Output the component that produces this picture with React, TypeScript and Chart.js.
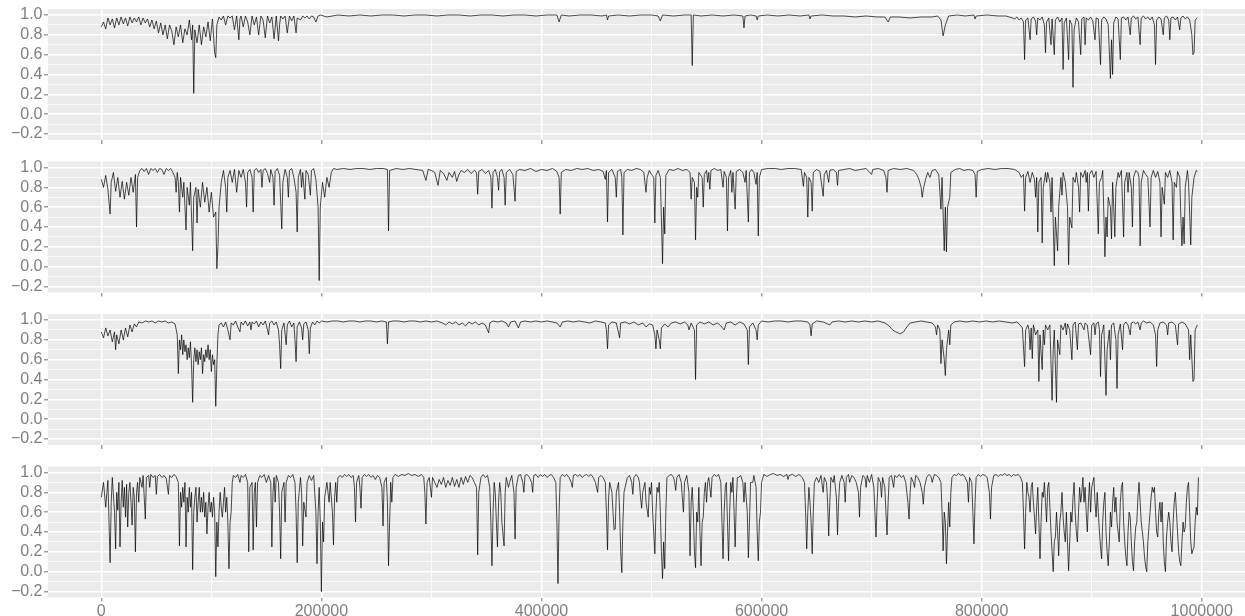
import React, { useEffect, useRef } from "react";
import { Chart, registerables } from "chart.js";

Chart.register(...registerables);

// Each reading is [position in thousands, value]
const X_UNIT = 1000;

const panel1Points: [number, number][] = [
  [0,0.88],[2,0.93],[4,0.86],[6,0.97],[8,0.9],[10,0.96],[12,0.87],[14,0.97],[16,0.9],[18,0.98],
  [20,0.91],[22,0.97],[24,0.89],[26,0.98],[28,0.92],[30,0.97],[32,0.93],[34,0.98],[36,0.9],[38,0.97],
  [40,0.92],[42,0.96],[44,0.88],[46,0.95],[48,0.86],[50,0.94],[52,0.82],[54,0.92],[56,0.8],[58,0.9],
  [60,0.76],[62,0.9],[64,0.84],[66,0.7],[68,0.88],[70,0.78],[72,0.9],[74,0.72],[76,0.86],[78,0.8],
  [80,0.95],[82,0.75],[83,0.9],[84,0.21],[85,0.85],[87,0.72],[89,0.9],[91,0.7],[93,0.88],[95,0.78],
  [97,0.93],[99,0.74],[101,0.96],[103,0.62],[104,0.57],[105,0.9],[107,0.98],[109,0.95],[111,0.99],[113,0.9],
  [115,0.99],[117,0.97],[119,0.99],[121,0.85],[123,0.99],[125,0.75],[126,0.96],[127,0.99],[129,0.88],[131,0.99],
  [133,0.93],[135,0.8],[137,0.99],[139,0.9],[141,0.98],[143,0.8],[145,0.99],[147,0.95],[149,0.77],[151,0.99],
  [153,0.92],[155,0.98],[157,0.76],[159,0.99],[161,0.74],[162,0.9],[163,0.99],[165,0.96],[167,0.99],[169,0.82],
  [171,0.99],[173,0.94],[175,0.99],[177,0.82],[178,0.97],[181,0.95],[183,0.99],[185,0.97],[187,0.99],[189,0.96],
  [191,0.99],[193,0.98],[195,0.93],[197,0.99],[199,1.0],
  [205,0.98],[215,1.0],[225,0.99],[235,1.0],[245,0.99],[255,1.0],[265,1.0],[275,0.99],[285,1.0],[295,1.0],
  [305,0.99],[315,1.0],[325,1.0],[335,0.99],[345,1.0],[355,1.0],[365,0.99],[375,1.0],[385,1.0],[395,0.99],
  [405,1.0],[414,1.0],[416,0.93],[418,1.0],[425,0.99],[435,1.0],[445,1.0],[455,0.99],[459,1.0],[460,0.95],
  [461,0.99],[470,1.0],[480,0.99],[490,1.0],[500,1.0],[506,0.99],[508,0.94],[510,1.0],[520,0.99],[530,1.0],
  [536,1.0],[537,0.49],[538,1.0],[545,0.99],[555,1.0],[565,0.99],[575,1.0],[583,0.99],[584,0.87],[585,0.99],
  [590,1.0],[595,0.99],[596,0.95],[597,0.99],[605,1.0],[615,0.99],[625,1.0],[635,0.99],[643,1.0],[644,0.96],
  [645,0.99],[655,1.0],[665,0.99],[675,0.99],[685,0.98],[695,0.99],[705,0.98],[712,0.98],[715,0.93],[717,0.98],
  [725,0.98],[735,0.97],[745,0.98],[755,0.98],[760,0.99],[763,0.95],[765,0.79],[767,0.9],[770,0.99],[778,1.0],
  [785,0.99],[793,1.0],[794,0.96],[795,0.99],[805,1.0],[815,0.99],[822,0.99],[828,0.97],
  [830,0.96],[832,0.98],[834,0.95],[836,0.97],[838,0.93],[839,0.55],[840,0.95],[842,0.97],[844,0.75],[845,0.96],
  [847,0.98],[849,0.94],[850,0.8],[851,0.97],[853,0.95],[855,0.98],[857,0.9],[858,0.62],[859,0.93],[861,0.97],
  [863,0.7],[864,0.96],[866,0.6],[867,0.95],[869,0.98],[871,0.93],[873,0.97],[874,0.45],[875,0.92],[877,0.97],
  [879,0.55],[880,0.95],[882,0.9],[883,0.27],[884,0.85],[886,0.97],[888,0.93],[890,0.6],[891,0.96],[893,0.98],
  [894,0.7],[895,0.97],[897,0.95],[899,0.98],[901,0.94],[903,0.75],[904,0.97],[906,0.96],[908,0.5],[909,0.95],
  [911,0.98],[913,0.96],[915,0.9],[917,0.36],[918,0.75],[919,0.4],[920,0.92],[922,0.98],[924,0.96],[926,0.55],
  [927,0.97],[929,0.98],[931,0.95],[933,0.98],[935,0.8],[936,0.97],[938,0.99],[940,0.96],[942,0.98],[944,0.7],
  [945,0.97],[947,0.99],[949,0.96],[951,0.98],[953,0.95],[955,0.98],[957,0.9],[958,0.5],[959,0.95],[961,0.98],
  [963,0.96],[965,0.8],[966,0.97],[968,0.99],[970,0.95],[971,0.75],[972,0.97],[974,0.98],[976,0.95],[978,0.98],
  [980,0.85],[981,0.97],[983,0.99],[985,0.96],[987,0.98],[989,0.95],[991,0.8],[992,0.6],[993,0.62],[994,0.95],
  [996,0.97],
];

const panel2Points: [number, number][] = [
  [0,0.88],[2,0.8],[4,0.92],[6,0.78],[8,0.53],[9,0.85],[11,0.95],[13,0.76],[15,0.9],[17,0.7],
  [19,0.86],[21,0.68],[23,0.85],[25,0.72],[27,0.9],[29,0.75],[31,0.93],[32,0.4],[33,0.9],[35,0.97],
  [37,0.99],[39,0.96],[41,0.99],[43,0.93],[45,0.99],[47,0.97],[49,0.99],[51,0.95],[53,0.99],[55,0.98],
  [57,0.93],[59,0.99],[61,0.97],[63,0.99],[65,0.95],[67,0.9],[68,0.75],[69,0.95],[70,0.85],[71,0.55],
  [72,0.9],[74,0.7],[75,0.85],[77,0.37],[78,0.8],[80,0.62],[81,0.85],[83,0.16],[84,0.7],[86,0.8],
  [87,0.44],[88,0.78],[90,0.6],[92,0.85],[94,0.65],[96,0.8],[98,0.55],[100,0.75],[102,0.5],[104,0.55],
  [105,-0.02],[106,0.2],[107,0.6],[109,0.85],[111,0.97],[113,0.8],[114,0.55],[115,0.9],[117,0.97],[119,0.85],
  [121,0.98],[123,0.75],[125,0.97],[127,0.9],[129,0.98],[131,0.85],[132,0.6],[133,0.95],[135,0.98],[137,0.9],
  [138,0.55],[139,0.97],[141,0.99],[143,0.95],[145,0.98],[146,0.8],[147,0.97],[149,0.99],[151,0.94],[153,0.85],
  [154,0.98],[156,0.9],[157,0.62],[158,0.96],[160,0.99],[162,0.92],[164,0.38],[165,0.85],[167,0.98],[169,0.9],
  [170,0.7],[171,0.97],[173,0.99],[175,0.9],[177,0.75],[178,0.35],[179,0.9],[181,0.98],[182,0.8],[183,0.95],
  [185,0.68],[186,0.97],[188,0.93],[190,0.72],[191,0.97],[193,0.99],[195,0.88],[197,0.6],[198,-0.14],[199,0.6],
  [201,0.85],[203,0.7],[205,0.9],[207,0.8],[209,0.95],[211,0.99],[214,0.98],[220,0.99],[226,0.98],[232,0.99],
  [238,0.99],[244,0.98],[250,0.99],[256,0.99],[260,0.98],[261,0.36],[262,0.97],[268,0.99],[274,0.98],[280,0.99],
  [286,0.98],[292,0.97],[295,0.87],[297,0.98],[300,0.97],[303,0.95],[306,0.82],[308,0.97],[311,0.94],[314,0.87],
  [316,0.95],[319,0.9],[321,0.96],[323,0.86],[325,0.93],[327,0.97],[330,0.95],[333,0.98],[336,0.94],[339,0.97],
  [341,0.95],[342,0.73],[343,0.96],[346,0.98],[349,0.94],[352,0.97],[354,0.9],[355,0.59],[356,0.95],[358,0.98],
  [360,0.9],[361,0.77],[362,0.96],[364,0.98],[366,0.9],[367,0.62],[368,0.95],[371,0.98],[374,0.93],[376,0.66],
  [377,0.96],[380,0.98],[385,0.97],[390,0.99],[395,0.96],[400,0.98],[405,0.97],[410,0.99],[414,0.96],[416,0.9],
  [417,0.53],[418,0.95],[422,0.98],[427,0.97],[432,0.99],[437,0.98],[442,0.99],[447,0.97],[452,0.98],[456,0.96],
  [458,0.88],[459,0.97],[460,0.45],[461,0.95],[464,0.98],[467,0.9],[468,0.7],[469,0.96],[472,0.98],[473,0.9],
  [474,0.32],[475,0.95],[478,0.98],[482,0.97],[486,0.99],[490,0.98],[493,0.95],[495,0.75],[496,0.9],[498,0.97],
  [500,0.93],[502,0.9],[503,0.44],[504,0.92],[506,0.97],[508,0.9],[510,0.03],[511,0.6],[512,0.33],[513,0.92],
  [516,0.98],[520,0.97],[524,0.99],[528,0.97],[532,0.98],[535,0.95],[536,0.68],[537,0.9],[539,0.85],[540,0.27],
  [541,0.8],[542,0.7],[543,0.95],[546,0.9],[547,0.6],[548,0.93],[550,0.97],[551,0.85],[552,0.95],[553,0.78],
  [554,0.97],[557,0.99],[560,0.97],[563,0.98],[565,0.8],[566,0.96],[568,0.9],[569,0.36],[570,0.9],[572,0.97],
  [573,0.75],[574,0.95],[576,0.58],[577,0.96],[580,0.98],[583,0.95],[585,0.85],[586,0.97],[588,0.45],[589,0.95],
  [591,0.98],[593,0.95],[595,0.83],[596,0.95],[597,0.31],[598,0.9],[600,0.98],[606,0.99],[612,0.99],[618,0.98],
  [624,0.99],[630,0.99],[636,0.98],[638,0.81],[639,0.95],[641,0.9],[642,0.5],[643,0.9],[645,0.85],[646,0.56],
  [647,0.95],[650,0.98],[653,0.96],[656,0.71],[657,0.93],[659,0.97],[661,0.85],[662,0.97],[665,0.98],[668,0.95],
  [669,0.82],[670,0.97],[675,0.98],[680,0.99],[685,0.97],[690,0.98],[695,0.99],[700,0.93],[701,0.98],[706,0.99],
  [711,0.97],[713,0.9],[714,0.75],[715,0.97],[720,0.99],[726,0.98],[732,0.99],[738,0.97],[741,0.93],[743,0.88],
  [745,0.8],[746,0.7],[747,0.78],[749,0.88],[751,0.95],[753,0.9],[755,0.97],[758,0.98],[761,0.93],[763,0.58],
  [764,0.9],[766,0.16],[767,0.6],[768,0.15],[769,0.6],[771,0.7],[772,0.95],[776,0.98],[780,0.99],[784,0.97],
  [788,0.98],[792,0.97],[794,0.93],[795,0.7],[796,0.96],[800,0.98],[806,0.99],[812,0.98],[818,0.99],[824,0.99],
  [830,0.98],[834,0.95],[836,0.9],[838,0.93],[839,0.56],[840,0.9],[842,0.96],[844,0.85],[846,0.95],[848,0.88],
  [849,0.7],[850,0.9],[851,0.35],[852,0.85],[854,0.9],[855,0.24],[856,0.8],[858,0.95],[859,0.85],[860,0.95],
  [862,0.85],[863,0.55],[864,0.9],[866,0.01],[867,0.5],[869,0.16],[870,0.6],[872,0.9],[873,0.72],[874,0.95],
  [876,0.85],[878,0.6],[879,0.02],[880,0.5],[882,0.39],[883,0.9],[885,0.85],[886,0.95],[888,0.8],[889,0.55],
  [890,0.95],[892,0.9],[894,0.97],[895,0.85],[896,0.95],[897,0.56],[898,0.93],[900,0.97],[902,0.9],[904,0.96],
  [906,0.33],[907,0.85],[909,0.9],[910,0.97],[912,0.1],[913,0.5],[914,0.3],[915,0.7],[917,0.6],[918,0.28],
  [919,0.85],[920,0.6],[921,0.3],[922,0.8],[924,0.95],[925,0.9],[927,0.97],[929,0.3],[930,0.85],[932,0.95],
  [933,0.75],[934,0.95],[936,0.8],[937,0.4],[938,0.9],[940,0.97],[942,0.95],[943,0.9],[944,0.21],[945,0.85],
  [947,0.97],[949,0.93],[951,0.9],[953,0.4],[954,0.9],[956,0.97],[958,0.9],[960,0.96],[962,0.85],[963,0.3],
  [964,0.8],[966,0.63],[967,0.95],[969,0.9],[971,0.97],[973,0.85],[974,0.27],[975,0.85],[977,0.8],[978,0.96],
  [980,0.9],[981,0.5],[982,0.21],[983,0.5],[984,0.23],[985,0.8],[987,0.97],[988,0.85],[990,0.22],[991,0.7],
  [993,0.9],[995,0.97],[996,0.96],
];

const panel3Points: [number, number][] = [
  [0,0.88],[2,0.82],[4,0.92],[6,0.84],[8,0.9],[10,0.78],[12,0.88],[13,0.7],[14,0.85],[16,0.76],
  [18,0.9],[20,0.8],[22,0.92],[24,0.83],[26,0.95],[28,0.88],[30,0.96],[32,0.93],[34,0.98],[37,0.97],
  [40,0.99],[43,0.98],[46,0.99],[49,0.97],[52,0.99],[55,0.98],[58,0.99],[61,0.97],[64,0.98],[67,0.96],
  [69,0.85],[70,0.46],[71,0.8],[72,0.7],[73,0.85],[74,0.65],[75,0.8],[76,0.68],[77,0.75],[78,0.6],
  [79,0.72],[80,0.62],[81,0.78],[82,0.55],[83,0.17],[84,0.6],[85,0.72],[86,0.58],[87,0.7],[88,0.55],
  [89,0.68],[90,0.6],[91,0.72],[92,0.46],[93,0.65],[94,0.58],[95,0.7],[96,0.62],[97,0.75],[98,0.6],
  [99,0.7],[100,0.48],[101,0.65],[102,0.55],[103,0.6],[104,0.13],[105,0.55],[106,0.85],[107,0.95],[109,0.97],
  [111,0.93],[113,0.98],[115,0.9],[117,0.8],[118,0.97],[120,0.95],[122,0.99],[124,0.93],[126,0.88],[127,0.98],
  [129,0.95],[131,0.99],[133,0.94],[135,0.98],[136,0.9],[137,0.98],[139,0.96],[141,0.99],[143,0.93],[145,0.98],
  [147,0.95],[149,0.99],[151,0.9],[152,0.85],[153,0.97],[155,0.99],[157,0.95],[159,0.98],[161,0.9],[162,0.75],
  [163,0.51],[164,0.9],[166,0.97],[168,0.75],[169,0.95],[171,0.99],[173,0.93],[175,0.97],[176,0.8],[177,0.58],
  [178,0.93],[180,0.98],[182,0.92],[183,0.8],[184,0.96],[186,0.98],[188,0.9],[189,0.66],[190,0.92],[192,0.98],
  [194,0.95],[196,0.99],[198,0.97],[200,0.99],[205,0.98],[210,0.99],[215,0.99],[220,0.98],[225,0.99],[230,0.99],
  [235,0.98],[240,0.99],[245,0.99],[250,0.98],[255,0.99],[259,0.98],[260,0.76],[261,0.98],[265,0.99],[270,0.99],
  [275,0.98],[280,0.99],[285,0.99],[290,0.98],[295,0.99],[300,0.98],[305,0.99],[310,0.97],[313,0.95],[316,0.98],
  [319,0.96],[322,0.98],[325,0.95],[328,0.97],[331,0.94],[334,0.98],[337,0.96],[340,0.98],[343,0.95],[346,0.97],
  [349,0.95],[352,0.87],[353,0.97],[356,0.99],[360,0.98],[364,0.99],[368,0.97],[370,0.93],[372,0.98],[376,0.99],
  [379,0.92],[381,0.98],[385,0.99],[390,0.98],[395,0.99],[400,0.98],[405,0.99],[410,0.98],[414,0.97],[417,0.93],
  [419,0.98],[424,0.99],[429,0.98],[434,0.99],[439,0.98],[444,0.97],[449,0.99],[454,0.98],[458,0.97],[459,0.9],
  [460,0.71],[461,0.95],[464,0.98],[468,0.97],[471,0.82],[472,0.97],[476,0.98],[480,0.96],[484,0.98],[488,0.95],
  [492,0.97],[495,0.93],[498,0.96],[501,0.95],[503,0.85],[504,0.71],[505,0.9],[507,0.8],[508,0.71],[509,0.92],
  [512,0.96],[515,0.93],[518,0.97],[522,0.98],[526,0.96],[530,0.98],[533,0.95],[534,0.9],[536,0.97],[539,0.9],
  [540,0.4],[541,0.95],[544,0.98],[548,0.96],[552,0.98],[556,0.95],[560,0.97],[563,0.94],[566,0.9],[568,0.97],
  [572,0.98],[576,0.95],[580,0.98],[584,0.96],[587,0.9],[588,0.55],[589,0.93],[592,0.97],[595,0.9],[596,0.8],
  [597,0.95],[600,0.99],[606,0.98],[612,0.99],[618,0.99],[624,0.98],[630,0.99],[636,0.99],[642,0.98],[644,0.95],
  [645,0.84],[646,0.96],[650,0.99],[656,0.98],[662,0.95],[664,0.98],[670,0.99],[676,0.98],[682,0.99],[688,0.98],
  [694,0.99],[700,0.98],[706,0.99],[712,0.97],[716,0.94],[719,0.9],[722,0.88],[726,0.86],[729,0.88],[732,0.93],
  [735,0.97],[740,0.98],[745,0.99],[750,0.98],[755,0.97],[758,0.93],[759,0.85],[760,0.95],[762,0.9],[763,0.56],
  [764,0.8],[766,0.6],[767,0.44],[768,0.7],[770,0.9],[771,0.75],[772,0.95],[775,0.98],[780,0.99],[786,0.98],
  [792,0.99],[798,0.98],[804,0.99],[810,0.98],[816,0.99],[822,0.98],[828,0.97],[832,0.98],[835,0.95],[837,0.92],
  [839,0.53],[840,0.9],[842,0.95],[843,0.9],[844,0.7],[845,0.92],[846,0.61],[847,0.95],[849,0.85],[851,0.9],
  [852,0.38],[853,0.85],[855,0.5],[856,0.9],[857,0.75],[858,0.95],[860,0.9],[862,0.95],[864,0.19],[865,0.7],
  [866,0.9],[868,0.17],[869,0.8],[871,0.65],[872,0.95],[874,0.9],[876,0.97],[877,0.85],[878,0.96],[880,0.9],
  [882,0.6],[883,0.95],[885,0.98],[887,0.7],[888,0.96],[890,0.97],[893,0.9],[894,0.97],[896,0.95],[899,0.65],
  [900,0.95],[902,0.97],[903,0.85],[904,0.96],[906,0.98],[907,0.9],[908,0.43],[909,0.85],[911,0.95],[913,0.24],
  [914,0.7],[916,0.9],[917,0.6],[918,0.95],[920,0.97],[922,0.8],[923,0.31],[924,0.85],[926,0.96],[928,0.7],
  [929,0.95],[931,0.98],[933,0.95],[935,0.85],[936,0.97],[938,0.98],[940,0.96],[942,0.98],[944,0.9],[945,0.97],
  [947,0.99],[950,0.97],[953,0.98],[956,0.95],[958,0.85],[959,0.53],[960,0.9],[962,0.97],[965,0.98],[968,0.95],
  [969,0.85],[970,0.97],[973,0.98],[976,0.95],[978,0.75],[979,0.96],[982,0.98],[985,0.96],[988,0.9],[989,0.6],
  [990,0.85],[992,0.38],[993,0.4],[994,0.9],[996,0.95],
];

const panel4Points: [number, number][] = [
  [0,0.75],[2,0.9],[4,0.65],[6,0.92],[8,0.09],[9,0.7],[10,0.95],[12,0.6],[13,0.23],[14,0.8],
  [15,0.62],[16,0.9],[17,0.25],[18,0.7],[19,0.92],[20,0.65],[21,0.85],[22,0.55],[23,0.88],[24,0.45],
  [25,0.8],[26,0.9],[27,0.7],[28,0.47],[29,0.85],[30,0.75],[31,0.2],[32,0.8],[33,0.9],[34,0.7],
  [35,0.95],[37,0.85],[38,0.97],[40,0.53],[41,0.95],[43,0.97],[44,0.85],[45,0.98],[47,0.95],[49,0.97],
  [50,0.78],[51,0.96],[53,0.98],[55,0.95],[57,0.97],[59,0.94],[61,0.78],[62,0.97],[64,0.95],[66,0.98],
  [68,0.96],[70,0.9],[71,0.26],[72,0.8],[73,0.65],[74,0.85],[75,0.7],[76,0.9],[77,0.25],[78,0.75],
  [79,0.6],[80,0.85],[81,0.65],[82,0.8],[83,0.02],[84,0.6],[85,0.75],[86,0.85],[87,0.5],[88,0.7],
  [89,0.85],[90,0.6],[91,0.75],[92,0.6],[93,0.8],[94,0.55],[95,0.7],[96,0.38],[97,0.65],[98,0.8],
  [99,0.6],[100,0.7],[101,0.55],[102,0.75],[103,0.6],[104,-0.05],[105,0.5],[106,0.25],[107,0.6],[108,0.8],
  [109,0.65],[110,0.55],[111,0.7],[112,0.85],[113,0.6],[114,0.75],[115,0.5],[116,0.03],[117,0.5],[118,0.6],
  [119,0.9],[120,0.97],[122,0.95],[124,0.98],[126,0.9],[127,0.97],[129,0.95],[131,0.98],[133,0.9],[134,0.2],
  [135,0.85],[137,0.9],[138,0.22],[139,0.8],[140,0.9],[141,0.45],[142,0.9],[144,0.97],[146,0.95],[148,0.98],
  [150,0.9],[152,0.97],[154,0.9],[155,0.25],[156,0.8],[157,0.95],[158,0.7],[159,0.97],[161,0.9],[162,0.6],
  [163,0.13],[164,0.8],[166,0.9],[167,0.5],[168,0.9],[170,0.97],[172,0.95],[174,0.98],[176,0.9],[177,0.6],
  [178,0.09],[179,0.7],[181,0.95],[182,0.8],[183,0.26],[184,0.7],[186,0.55],[187,0.9],[189,0.97],[191,0.92],
  [193,0.97],[195,0.6],[196,0.08],[197,0.6],[198,0.85],[199,0.5],[200,-0.2],[201,0.5],[202,0.3],[203,0.75],
  [205,0.9],[207,0.7],[208,0.9],[210,0.6],[211,0.27],[212,0.75],[213,0.9],[214,0.7],[215,0.95],[217,0.97],
  [219,0.95],[221,0.98],[223,0.96],[225,0.98],[227,0.95],[229,0.97],[230,0.85],[231,0.5],[232,0.9],[234,0.97],
  [235,0.85],[236,0.64],[237,0.95],[239,0.98],[241,0.96],[243,0.98],[245,0.95],[247,0.97],[249,0.93],[251,0.97],
  [253,0.95],[255,0.85],[256,0.46],[257,0.9],[259,0.95],[260,0.7],[261,0.06],[262,0.5],[263,0.9],[264,0.7],
  [265,0.95],[267,0.98],[270,0.96],[273,0.98],[276,0.97],[279,0.99],[282,0.97],[285,0.98],[288,0.96],[291,0.98],
  [293,0.95],[294,0.8],[295,0.48],[296,0.9],[298,0.95],[299,0.85],[300,0.75],[301,0.95],[303,0.9],[305,0.85],
  [307,0.93],[309,0.88],[311,0.95],[313,0.85],[315,0.92],[317,0.87],[319,0.95],[321,0.86],[323,0.93],[325,0.85],
  [327,0.95],[329,0.88],[331,0.96],[333,0.9],[335,0.97],[337,0.95],[339,0.9],[341,0.85],[342,0.17],[343,0.8],
  [345,0.95],[347,0.98],[349,0.95],[351,0.97],[353,0.85],[354,0.5],[355,0.06],[356,0.6],[357,0.9],[358,0.8],
  [359,0.5],[360,0.25],[361,0.7],[362,0.9],[363,0.8],[364,0.5],[366,0.26],[367,0.8],[368,0.95],[370,0.85],
  [371,0.9],[373,0.97],[375,0.8],[376,0.33],[377,0.85],[379,0.97],[381,0.98],[383,0.9],[384,0.8],[385,0.97],
  [387,0.98],[389,0.95],[391,0.9],[392,0.8],[393,0.97],[395,0.98],[397,0.95],[399,0.98],[401,0.96],[403,0.98],
  [405,0.95],[407,0.97],[409,0.98],[411,0.95],[413,0.9],[414,0.5],[415,-0.12],[416,0.6],[417,0.95],[419,0.98],
  [421,0.96],[423,0.98],[425,0.95],[427,0.9],[428,0.85],[429,0.97],[431,0.98],[433,0.96],[435,0.98],[437,0.95],
  [439,0.97],[441,0.98],[443,0.96],[445,0.98],[447,0.95],[449,0.9],[451,0.8],[452,0.95],[454,0.97],[456,0.95],
  [458,0.9],[459,0.6],[460,0.22],[461,0.75],[462,0.9],[464,0.8],[465,0.6],[466,0.42],[467,0.43],[468,0.8],
  [470,0.9],[471,0.6],[472,0.2],[473,-0.01],[474,0.5],[475,0.8],[476,0.85],[478,0.95],[480,0.97],[482,0.9],
  [483,0.78],[484,0.95],[486,0.98],[488,0.95],[489,0.9],[490,0.75],[491,0.64],[492,0.8],[494,0.9],[495,0.7],
  [497,0.55],[498,0.85],[499,0.78],[500,0.9],[501,0.6],[502,0.4],[503,0.18],[504,0.6],[505,0.85],[506,0.8],
  [507,0.9],[508,0.6],[509,0.2],[510,-0.07],[511,0.3],[512,0.03],[513,0.6],[514,0.95],[516,0.97],[518,0.98],
  [520,0.95],[521,0.9],[522,0.82],[523,0.95],[525,0.98],[527,0.9],[528,0.75],[529,0.6],[530,0.9],[532,0.97],
  [534,0.8],[535,0.16],[536,0.7],[537,0.85],[538,0.6],[539,0.2],[540,0.04],[541,0.6],[542,0.5],[543,0.85],
  [544,0.4],[545,0.06],[546,0.5],[547,0.55],[548,0.8],[549,0.9],[550,0.7],[551,0.9],[552,0.95],[553,0.85],
  [554,0.75],[555,0.95],[557,0.98],[559,0.96],[561,0.98],[563,0.9],[564,0.5],[565,0.13],[566,0.6],[567,0.85],
  [568,0.9],[569,0.5],[570,0.11],[571,0.6],[572,0.9],[573,0.8],[574,0.95],[575,0.6],[576,0.25],[577,0.7],
  [578,0.95],[579,0.95],[581,0.97],[583,0.9],[584,0.7],[585,0.9],[587,0.6],[588,0.14],[589,0.5],[590,0.9],
  [592,0.9],[593,0.97],[595,0.85],[596,0.4],[597,0.11],[598,0.5],[599,0.6],[600,0.9],[602,0.98],[605,0.96],
  [608,0.98],[611,0.99],[614,0.97],[617,0.98],[620,0.96],[623,0.98],[624,0.93],[625,0.97],[628,0.98],[631,0.96],
  [634,0.98],[637,0.95],[639,0.9],[640,0.6],[641,0.23],[642,0.6],[643,0.85],[644,0.7],[645,0.5],[646,0.18],
  [647,0.6],[648,0.9],[650,0.95],[652,0.9],[654,0.97],[655,0.88],[656,0.8],[657,0.95],[659,0.9],[660,0.7],
  [661,0.36],[662,0.7],[663,0.95],[665,0.9],[666,0.97],[668,0.75],[669,0.37],[670,0.7],[671,0.9],[673,0.97],
  [675,0.9],[676,0.7],[677,0.95],[679,0.98],[680,0.9],[682,0.97],[684,0.95],[686,0.9],[688,0.8],[689,0.55],
  [690,0.85],[692,0.97],[694,0.95],[695,0.85],[696,0.97],[698,0.9],[700,0.98],[702,0.85],[703,0.6],[704,0.35],
  [705,0.7],[706,0.95],[708,0.9],[709,0.75],[710,0.95],[712,0.85],[713,0.6],[714,0.37],[715,0.7],[716,0.95],
  [718,0.97],[720,0.85],[721,0.97],[723,0.95],[725,0.98],[727,0.95],[729,0.97],[731,0.9],[733,0.7],[734,0.53],
  [735,0.8],[736,0.95],[738,0.9],[739,0.85],[740,0.97],[742,0.95],[744,0.9],[746,0.8],[747,0.68],[748,0.85],
  [750,0.95],[752,0.98],[754,0.96],[755,0.9],[757,0.98],[759,0.97],[761,0.95],[763,0.9],[764,0.6],[765,0.21],
  [766,0.6],[767,0.5],[768,0.08],[769,0.4],[770,0.7],[771,0.45],[772,0.8],[773,0.95],[775,0.98],[777,0.97],
  [779,0.99],[781,0.97],[783,0.98],[785,0.95],[787,0.9],[788,0.7],[789,0.95],[791,0.9],[792,0.6],[793,0.28],
  [794,0.7],[795,0.95],[797,0.98],[799,0.96],[801,0.98],[803,0.97],[805,0.95],[807,0.8],[808,0.53],[809,0.85],
  [811,0.97],[813,0.98],[815,0.96],[817,0.98],[819,0.97],[821,0.99],[823,0.97],[825,0.98],[827,0.96],[829,0.98],
  [831,0.97],[833,0.98],[835,0.96],[837,0.9],[838,0.6],[839,0.23],[840,0.6],[841,0.9],[842,0.8],[843,0.75],
  [844,0.6],[845,0.85],[846,0.9],[847,0.7],[848,0.55],[849,0.38],[850,0.65],[851,0.85],[852,0.5],[853,0.13],
  [854,0.5],[855,0.8],[856,0.75],[857,0.9],[858,0.7],[859,0.5],[860,0.85],[861,0.9],[862,0.65],[863,0.4],
  [864,0.2],[865,0.0],[866,0.3],[867,0.35],[868,0.6],[869,0.4],[870,0.16],[871,0.5],[872,0.6],[873,0.8],
  [874,0.55],[875,0.4],[876,0.3],[877,0.6],[878,0.3],[879,0.01],[880,0.3],[881,0.6],[882,0.5],[883,0.75],
  [884,0.9],[885,0.6],[886,0.4],[887,0.3],[888,0.6],[889,0.85],[890,0.7],[891,0.8],[892,0.95],[893,0.7],
  [894,0.85],[895,0.6],[896,0.4],[897,0.7],[898,0.9],[899,0.6],[900,0.85],[901,0.9],[902,0.95],[903,0.7],
  [904,0.55],[905,0.8],[906,0.6],[907,0.4],[908,0.25],[909,0.13],[910,0.5],[911,0.7],[912,0.8],[913,0.4],
  [914,0.2],[915,0.06],[916,0.3],[917,0.6],[918,0.45],[919,0.7],[920,0.85],[921,0.6],[922,0.75],[923,0.5],
  [924,0.4],[925,0.3],[926,0.7],[927,0.85],[928,0.9],[929,0.5],[930,0.3],[931,0.15],[932,0.06],[933,0.4],
  [934,0.6],[935,0.55],[936,0.3],[937,0.1],[938,0.01],[939,0.3],[940,0.45],[941,0.5],[942,0.75],[943,0.9],
  [944,0.7],[945,0.5],[946,0.4],[947,0.3],[948,0.15],[949,0.05],[950,0.0],[951,0.3],[952,0.45],[953,0.6],
  [954,0.75],[955,0.85],[956,0.8],[957,0.85],[958,0.6],[959,0.4],[960,0.35],[961,0.6],[962,0.7],[963,0.5],
  [964,0.7],[965,0.3],[966,0.1],[967,0.0],[968,0.35],[969,0.5],[970,0.6],[971,0.5],[972,0.3],[973,0.2],
  [974,0.5],[975,0.7],[976,0.8],[977,0.6],[978,0.4],[979,0.2],[980,0.1],[981,0.06],[982,0.3],[983,0.5],
  [984,0.4],[985,0.45],[986,0.7],[987,0.85],[988,0.9],[989,0.6],[990,0.3],[991,0.18],[992,0.22],[993,0.25],
  [994,0.5],[995,0.65],[996,0.57],[997,0.95],
];

const xMajorTicks = [0, 200000, 400000, 600000, 800000, 1000000];
const xMajorLabels = ["0", "200000", "400000", "600000", "800000", "1000000"];
const xMinorTicks = [100000, 300000, 500000, 700000, 900000];
const yMajorTicks = [-0.2, 0, 0.2, 0.4, 0.6, 0.8, 1.0];
const yMajorLabels = ["\u22120.2", "0.0", "0.2", "0.4", "0.6", "0.8", "1.0"];
const yMinorTicks = [-0.1, 0.1, 0.3, 0.5, 0.7, 0.9];

const X_MIN = -48440;
const X_MAX = 1039300;
const Y_MIN = -0.2605;
const Y_MAX = 1.0605;

const FIG_W = 1245;
const FIG_H = 616;
const PLOT_LEFT = 48;
const PLOT_HEIGHT = 131;
const PANEL_TOPS = [9, 161.5, 314, 466.5];

const PANEL_BG = "#EBEBEB";
const TEXT_COLOR = "#7F7F7F";
const TICK_COLOR = "#7F7F7F";
const FONT_FAMILY = "'Liberation Sans', Arial, Helvetica, sans-serif";

const near = (a: number, b: number) => Math.abs(a - b) < 1e-7;
const isMajorY = (v: number) => yMajorTicks.some((t) => near(t, v));
const isMajorX = (v: number) => xMajorTicks.some((t) => near(t, v));

const bgPlugin = {
  id: "panelBackground",
  beforeDraw(chart: any) {
    const { ctx, chartArea } = chart;
    if (!chartArea) return;
    ctx.save();
    ctx.fillStyle = PANEL_BG;
    ctx.fillRect(chartArea.left, chartArea.top, chartArea.right - chartArea.left, chartArea.bottom - chartArea.top);
    ctx.restore();
  },
};

function Panel({ points, plotTop, showLabels }: { points: [number, number][]; plotTop: number; showLabels: boolean }) {
  const ref = useRef<HTMLCanvasElement | null>(null);
  const canvasTop = Math.floor(plotTop) - 9;
  const padTop = plotTop - canvasTop;
  const height = showLabels ? FIG_H - canvasTop : Math.ceil(padTop + PLOT_HEIGHT + 8);
  const xAxisH = height - padTop - PLOT_HEIGHT;

  useEffect(() => {
    if (!ref.current) return;
    const data = points.map(([xk, y]) => ({ x: xk * X_UNIT, y }));
    const chart = new Chart(ref.current, {
      type: "line",
      data: {
        datasets: [
          {
            data,
            borderColor: "#000000",
            borderWidth: 0.7,
            pointRadius: 0,
            tension: 0,
            fill: false,
          },
        ],
      },
      options: {
        responsive: false,
        animation: false,
        devicePixelRatio: 1,
        events: [],
        layout: { padding: { top: padTop, left: 0, right: 0, bottom: 0 } },
        plugins: {
          legend: { display: false },
          tooltip: { enabled: false },
          title: { display: false },
        },
        scales: {
          x: {
            type: "linear",
            min: X_MIN,
            max: X_MAX,
            afterBuildTicks: (scale: any) => {
              scale.ticks = [...xMajorTicks, ...xMinorTicks].sort((a, b) => a - b).map((v) => ({ value: v }));
            },
            afterFit: (scale: any) => {
              scale.height = xAxisH;
              scale.paddingLeft = 0;
              scale.paddingRight = 0;
            },
            border: { display: false },
            grid: {
              drawOnChartArea: true,
              drawTicks: true,
              tickLength: 4,
              color: "#FFFFFF",
              lineWidth: (ctx: any) => (isMajorX(ctx.tick.value) ? 1.6 : 0.8),
              tickColor: (ctx: any) => (isMajorX(ctx.tick.value) ? TICK_COLOR : "rgba(0,0,0,0)"),
              tickWidth: 1.1,
            },
            ticks: {
              display: showLabels,
              autoSkip: false,
              maxRotation: 0,
              minRotation: 0,
              padding: 0,
              color: TEXT_COLOR,
              font: { family: FONT_FAMILY, size: 16 },
              callback: (value: any) => {
                const idx = xMajorTicks.findIndex((t) => near(t, Number(value)));
                return idx >= 0 ? xMajorLabels[idx] : "";
              },
            },
          },
          y: {
            type: "linear",
            min: Y_MIN,
            max: Y_MAX,
            afterBuildTicks: (scale: any) => {
              scale.ticks = [...yMajorTicks, ...yMinorTicks].sort((a, b) => a - b).map((v) => ({ value: v }));
            },
            afterFit: (scale: any) => {
              scale.width = PLOT_LEFT;
              scale.paddingTop = 0;
              scale.paddingBottom = 0;
            },
            border: { display: false },
            grid: {
              drawOnChartArea: true,
              drawTicks: true,
              tickLength: 4,
              color: "#FFFFFF",
              lineWidth: (ctx: any) => (isMajorY(ctx.tick.value) ? 1.6 : 0.8),
              tickColor: (ctx: any) => (isMajorY(ctx.tick.value) ? TICK_COLOR : "rgba(0,0,0,0)"),
              tickWidth: 1.1,
            },
            ticks: {
              autoSkip: false,
              padding: 1.5,
              color: TEXT_COLOR,
              font: { family: FONT_FAMILY, size: 16 },
              callback: (value: any) => {
                const idx = yMajorTicks.findIndex((t) => near(t, Number(value)));
                return idx >= 0 ? yMajorLabels[idx] : "";
              },
            },
          },
        },
      } as any,
      plugins: [bgPlugin],
    });
    return () => chart.destroy();
  }, [points, padTop, xAxisH, showLabels]);

  return (
    <canvas
      ref={ref}
      width={FIG_W}
      height={height}
      style={{ position: "absolute", left: 0, top: canvasTop, width: FIG_W, height, display: "block" }}
    />
  );
}

const PANELS = [panel1Points, panel2Points, panel3Points, panel4Points];

export default function App() {
  return (
    <div style={{ position: "absolute", left: 0, top: 0, width: FIG_W, height: FIG_H, background: "#FFFFFF", overflow: "hidden" }}>
      {PANELS.map((pts, k) => (
        <Panel key={k} points={pts} plotTop={PANEL_TOPS[k]} showLabels={k === PANELS.length - 1} />
      ))}
    </div>
  );
}
